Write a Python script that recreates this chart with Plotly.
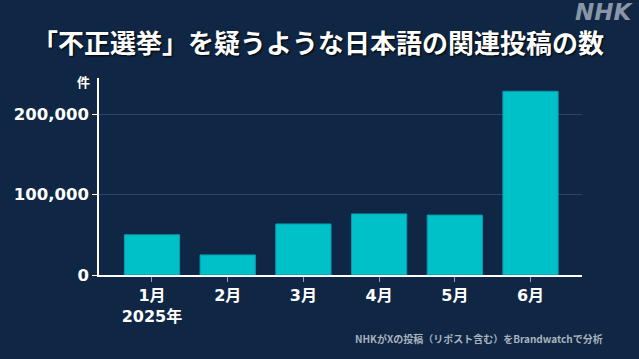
import plotly.graph_objects as go

months = ["1月", "2月", "3月", "4月", "5月", "6月"]
tick_labels = ["1月<br>2025年", "2月", "3月", "4月", "5月", "6月"]
counts = [50000, 25000, 63500, 76000, 74500, 228500]
y_ticks = [0, 100000, 200000]
y_tick_labels = ["0", "100,000", "200,000"]

BG = "#0f2745"
CJK = "Noto Sans CJK JP"
NUM = "DejaVu Sans, Noto Sans CJK JP"

# plot area in pixels (left, right, top, bottom)
L, R, T, B = 99, 582, 78, 275


def px(x):
    return (x - L) / (R - L)


def py(y):
    return (B - y) / (B - T)


fig = go.Figure()
fig.add_trace(go.Bar(
    x=list(range(len(months))), y=counts,
    marker=dict(color="#00c0c8", line=dict(color="#0a9aaa", width=1)),
    width=0.73,
    hoverinfo="skip",
))

fig.update_layout(
    width=639, height=359,
    paper_bgcolor=BG, plot_bgcolor=BG,
    margin=dict(l=L, r=639 - R, t=T, b=359 - B),
    showlegend=False,
    font=dict(family=CJK, color="white"),
    title=dict(
        text="「不正選挙」を疑うような日本語の関連投稿の数",
        x=318 / 639, xanchor="center", xref="container",
        y=1 - 44 / 359, yanchor="middle", yref="container",
        font=dict(family=CJK, size=26, color="white", weight="bold",
                  shadow="1px 1px 2px #000000"),
    ),
    xaxis=dict(
        range=[-0.7, 5.68],
        tickmode="array", tickvals=list(range(len(months))), ticktext=tick_labels,
        ticks="outside", ticklen=5, tickcolor="#9aa3ae", tickwidth=1,
        showline=True, linecolor="white", linewidth=1.5,
        showgrid=False, zeroline=False,
        tickfont=dict(family=NUM, size=16, color="white", weight="bold"),
        fixedrange=True,
    ),
    yaxis=dict(
        range=[0, 245000],
        tickmode="array", tickvals=y_ticks, ticktext=y_tick_labels,
        ticks="outside", ticklen=5, tickcolor="white", tickwidth=1,
        showline=True, linecolor="white", linewidth=1.5,
        showgrid=True, gridcolor="#2c4462", gridwidth=1,
        zeroline=False,
        tickfont=dict(family=NUM, size=16.5, color="white", weight="bold"),
        fixedrange=True,
    ),
)

fig.add_annotation(
    text="件", xref="paper", yref="paper", x=px(83), y=py(82),
    xanchor="center", yanchor="middle", showarrow=False,
    font=dict(family=CJK, size=13, color="white", weight="bold"),
)
fig.add_annotation(
    text="<i>NHK</i>", xref="paper", yref="paper", x=px(635), y=py(12),
    xanchor="right", yanchor="middle", showarrow=False,
    font=dict(family="DejaVu Sans", size=23, color="#8a96a8", weight="bold"),
)
fig.add_annotation(
    text="NHKがXの投稿（リポスト含む）をBrandwatchで分析",
    xref="paper", yref="paper", x=px(605), y=py(338),
    xanchor="right", yanchor="middle", showarrow=False,
    font=dict(family=CJK, size=10, color="#a9b1bd", weight="bold"),
)

fig.write_html("out.html", config={"displayModeBar": False})

# remove default page margin so the figure sits at the window's top-left corner
with open("out.html", encoding="utf-8") as f:
    html = f.read()
html = html.replace("<body>", '<body style="margin:0;padding:0;">', 1)
with open("out.html", "w", encoding="utf-8") as f:
    f.write(html)
